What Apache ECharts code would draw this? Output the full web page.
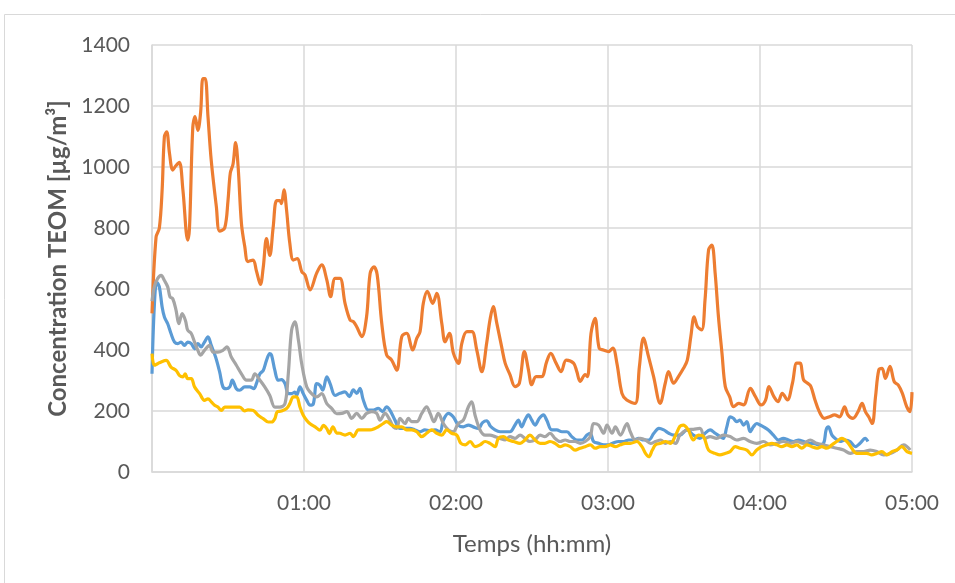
<!DOCTYPE html>
<html>
<head>
<meta charset="utf-8">
<script src="https://cdn.jsdelivr.net/npm/echarts@6/dist/echarts.min.js"></script>
<style>
  html, body { margin: 0; padding: 0; background: #fff; }
  #chart { width: 955px; height: 583px; }
</style>
</head>
<body>
<div id="chart"></div>
<script>
// time in minutes, concentration in µg/m³
const xTickLabels = ['', '01:00', '02:00', '03:00', '04:00', '05:00'];
const yTicks = [0, 200, 400, 600, 800, 1000, 1200, 1400];

const blueData = [[0,322],[0.9,541],[1.9,623],[2.9,607],[4.0,541],[4.9,508],[6.2,486],[7.5,454],[8.9,426],[10.2,421],[11.5,426],[12.8,415],[14.1,426],[15.5,421],[16.8,404],[18.1,421],[19.4,410],[20.7,426],[22.1,443],[23.4,415],[25.1,377],[26.7,328],[28.0,279],[29.3,273],[30.7,279],[31.7,301],[33.3,273],[34.6,268],[36.6,279],[38.6,279],[40.2,273],[41.2,290],[42.6,322],[43.9,333],[45.2,366],[46.5,388],[47.2,383],[48.5,333],[49.8,301],[51.1,303],[52.5,290],[53.8,257],[55.1,257],[56.4,262],[57.1,251],[58.4,279],[59.7,257],[61.1,235],[62.4,219],[63.7,224],[65.0,290],[66.3,284],[67.4,268],[69.0,312],[70.3,290],[72.3,251],[74.2,258],[76.2,263],[77.9,247],[79.5,269],[80.8,258],[82.1,274],[83.4,236],[85.4,203],[87.4,203],[89.3,209],[91.0,198],[92.6,214],[93.9,203],[95.9,170],[97.9,143],[99.9,143],[101.8,143],[103.8,138],[105.8,132],[107.7,138],[109.7,136],[111.7,138],[113.7,132],[115.0,170],[117.0,192],[118.9,181],[120.9,154],[122.9,148],[124.9,154],[126.8,148],[128.8,143],[130.5,162],[132.1,168],[133.6,150],[135.4,138],[137.4,132],[139.4,132],[141.3,132],[143.3,154],[144.6,170],[145.9,148],[147.2,170],[148.6,187],[149.9,170],[151.2,154],[152.9,176],[154.5,187],[155.8,170],[157.8,138],[159.8,138],[161.8,132],[163.8,132],[165.7,116],[167.7,105],[169.7,105],[171.7,121],[173.0,127],[174.3,100],[176.3,94],[178.3,89],[180.2,89],[182.2,96],[184.2,100],[186.2,100],[188.2,105],[190.1,105],[192.1,110],[194.1,105],[196.1,105],[198.1,127],[200.1,143],[202.0,138],[204.0,127],[206.0,121],[208.4,121],[211.1,138],[213.7,121],[216.3,110],[218.3,127],[220.3,138],[222.3,127],[224.2,116],[225.5,110],[226.9,148],[228.2,181],[229.5,176],[230.8,165],[232.1,170],[233.5,154],[234.8,165],[236.1,132],[237.4,148],[238.7,159],[240.0,154],[241.4,148],[243.3,138],[245.3,121],[247.3,105],[249.2,110],[251.2,105],[253.2,100],[255.2,105],[257.2,100],[259.1,94],[261.1,94],[263.1,89],[265.1,94],[266.1,138],[267.0,148],[268.4,121],[269.7,110],[271.6,100],[273.6,105],[275.6,100],[277.6,83],[279.5,94],[281.5,110],[282.6,100]];

const orangeData = [[0,520],[1.6,770],[2.9,800],[4.0,925],[4.9,1100],[5.8,1115],[6.9,1045],[8.2,990],[9.5,1005],[10.8,1015],[12.2,925],[14.1,760],[14.8,800],[16.1,1130],[17.0,1165],[18.1,1120],[19.2,1180],[20.1,1290],[21.0,1290],[22.1,1165],[23.4,1020],[25.4,870],[26.7,790],[28.7,800],[30.0,890],[30.9,980],[32.0,1010],[33.0,1080],[34.0,1000],[35.3,815],[36.6,740],[37.9,690],[39.9,695],[41.2,660],[42.8,615],[43.9,670],[45.2,765],[46.5,710],[47.8,800],[49.2,890],[50.5,890],[51.1,880],[52.1,925],[53.1,860],[54.4,750],[55.8,695],[57.4,700],[59.1,657],[60.4,646],[62.4,597],[65.0,652],[67.0,679],[69.0,630],[70.5,575],[72.3,635],[74.2,635],[76.2,553],[78.2,498],[79.5,493],[80.8,476],[82.8,444],[84.7,509],[86.1,651],[87.6,673],[88.9,646],[90.7,487],[92.6,384],[94.6,367],[96.6,334],[98.6,444],[100.5,455],[102.9,400],[104.5,438],[105.8,460],[107.1,553],[108.7,592],[110.8,553],[112.4,586],[114.4,487],[115.7,427],[117.4,455],[119.0,389],[121.0,356],[122.3,422],[124.3,460],[126.3,460],[128.2,400],[130.2,329],[132.1,422],[133.4,498],[134.7,542],[136.1,488],[138.0,411],[139.4,357],[141.3,319],[143.3,280],[145.0,291],[147.0,395],[148.6,335],[149.9,286],[151.6,313],[153.8,313],[155.8,362],[157.4,389],[159.5,357],[161.5,329],[163.5,367],[166.4,357],[167.7,329],[169.0,297],[171.0,319],[171.9,313],[173.3,455],[174.9,504],[176.5,406],[178.2,400],[180.2,395],[181.9,406],[183.5,357],[185.5,258],[187.4,236],[190.7,225],[192.4,346],[194.0,439],[196.0,378],[198.0,313],[200.6,225],[202.6,291],[203.9,329],[205.9,291],[207.8,313],[209.8,340],[211.3,367],[212.7,444],[214.0,509],[215.3,476],[217.0,466],[218.3,564],[219.7,728],[221.0,744],[222.3,651],[223.6,509],[225.0,389],[226.3,280],[228.0,247],[229.6,214],[231.6,225],[233.5,220],[236.2,274],[238.2,247],[240.4,220],[242.2,236],[243.5,280],[245.5,247],[247.1,231],[248.8,258],[250.8,236],[252.8,291],[254.5,357],[255.8,357],[257.2,302],[258.8,291],[260.1,280],[261.7,236],[263.4,198],[265.4,176],[267.4,181],[269.4,187],[271.4,181],[273.4,214],[274.7,187],[276.7,176],[278.7,198],[280.3,225],[281.6,198],[282.9,181],[284.3,159],[285.6,247],[286.9,335],[288.2,340],[289.5,307],[291.3,346],[293.0,296],[294.6,285],[296.2,258],[297.9,214],[299.2,198],[300,262]];

const grayData = [[0,560],[0.9,607],[2.2,634],[3.6,645],[4.9,628],[6.2,607],[7.1,574],[8.2,568],[9.5,530],[10.6,486],[11.9,519],[13.2,497],[14.1,465],[15.5,454],[16.8,426],[18.1,399],[19.2,383],[20.7,399],[22.7,415],[24.1,393],[26.0,393],[28.0,399],[29.6,410],[31.3,377],[33.3,350],[35.3,322],[37.3,301],[39.2,301],[40.6,322],[42.6,301],[44.5,279],[46.5,251],[48.5,213],[50.5,213],[52.5,224],[53.8,322],[55.1,465],[56.4,492],[57.8,432],[59.1,355],[61.1,279],[63.0,257],[65.0,246],[67.0,257],[69.0,224],[71.0,208],[72.9,191],[74.9,192],[76.9,198],[78.8,176],[80.8,192],[82.8,176],[84.7,192],[86.7,198],[88.7,192],[90.0,170],[92.0,192],[93.9,170],[95.3,148],[96.6,143],[97.9,176],[99.9,159],[101.2,176],[102.5,165],[104.5,165],[106.5,192],[108.4,214],[109.8,192],[111.3,165],[113.0,192],[115.0,159],[117.0,138],[118.9,132],[120.9,159],[122.9,170],[124.9,214],[126.2,230],[127.5,187],[129.5,138],[131.5,121],[133.4,121],[135.4,116],[137.4,110],[139.4,105],[141.3,116],[143.3,110],[145.3,121],[147.2,110],[149.2,100],[151.2,105],[153.2,121],[155.1,116],[157.1,127],[159.1,110],[161.1,100],[163.1,105],[165.1,100],[167.0,100],[169.0,94],[171.0,100],[173.0,116],[174.3,159],[176.3,154],[178.3,127],[179.6,154],[181.6,127],[182.9,148],[184.9,121],[187.5,159],[188.8,132],[190.8,105],[192.8,110],[194.8,105],[196.8,94],[198.8,100],[200.8,105],[202.7,94],[204.7,100],[206.7,94],[208.4,121],[211.1,138],[213.7,140],[216.3,143],[218.3,110],[220.3,116],[222.9,110],[225.5,121],[228.2,116],[230.8,105],[233.5,110],[236.1,100],[238.7,94],[241.4,100],[244.0,89],[246.6,94],[249.2,100],[251.9,94],[254.5,100],[257.2,94],[259.8,105],[262.4,94],[265.1,89],[267.7,83],[270.3,78],[273.0,72],[275.6,61],[278.2,67],[280.9,67],[283.5,72],[286.1,67],[288.8,56],[291.4,61],[294.0,72],[296.7,89],[299.3,72]];

const yellowData = [[0,388],[0.9,350],[2.2,355],[3.6,361],[5.6,366],[7.5,344],[9.5,333],[10.8,317],[12.2,312],[13.1,322],[14.1,306],[15.5,306],[16.8,279],[18.8,257],[20.7,235],[22.1,240],[23.4,230],[24.7,219],[26.0,213],[27.4,202],[28.7,213],[30.7,213],[32.6,213],[34.6,213],[36.6,200],[37.9,204],[39.9,202],[41.9,186],[43.9,175],[45.9,164],[47.2,164],[48.5,175],[49.4,197],[51.1,200],[53.1,208],[54.4,224],[55.8,246],[57.1,246],[58.4,213],[59.7,186],[61.1,169],[62.4,158],[64.4,148],[66.3,137],[67.7,153],[69.0,142],[70.0,126],[71.4,148],[72.9,128],[74.2,127],[76.2,121],[78.2,127],[79.5,116],[81.5,138],[83.4,138],[86.1,138],[88.0,143],[89.3,148],[91.3,159],[92.6,165],[94.6,154],[96.6,148],[98.6,148],[100.5,138],[102.5,138],[104.5,132],[106.5,116],[108.4,127],[110.4,138],[112.4,127],[114.4,121],[116.3,138],[118.3,127],[120.3,121],[121.9,94],[123.6,89],[125.6,100],[127.5,83],[129.5,89],[131.5,100],[133.4,94],[135.4,83],[136.7,110],[138.7,116],[140.7,105],[142.7,100],[145.3,94],[147.2,105],[149.2,121],[151.2,105],[153.2,94],[155.1,94],[157.1,100],[159.1,94],[161.1,83],[163.1,89],[165.1,83],[167.0,72],[169.0,78],[171.0,83],[173.0,89],[175.0,78],[176.9,83],[178.9,83],[180.9,89],[182.9,83],[184.9,89],[186.8,94],[188.8,94],[191.4,100],[193.4,83],[194.8,61],[196.1,50],[197.5,72],[198.8,89],[200.8,94],[202.7,100],[204.7,94],[206.7,121],[208.4,150],[209.7,154],[211.7,138],[213.7,105],[215.7,121],[217.7,116],[219.7,72],[222.3,61],[224.2,56],[226.2,61],[228.2,67],[230.2,83],[232.1,78],[234.8,72],[236.8,56],[238.7,72],[240.7,83],[242.7,89],[244.7,94],[246.6,89],[248.6,83],[250.6,89],[252.6,83],[254.5,89],[256.5,78],[258.5,89],[260.5,83],[262.4,78],[264.4,83],[266.4,78],[268.4,89],[270.3,100],[272.3,110],[274.3,100],[276.2,78],[278.2,61],[280.2,61],[282.2,61],[284.1,56],[286.1,61],[288.1,67],[290.1,56],[292.1,67],[294.0,72],[296.0,83],[298.0,67],[300.0,61]];

const chart = echarts.init(document.getElementById('chart'));
const FONT = 'Lato';
const TXT = '#595959';
const GRID = '#d9d9d9';

function line(data, color) {
    return {
        type: 'line',
        data: data,
        smooth: 0.35,
        showSymbol: false,
        lineStyle: { color: color, width: 3.2 },
        itemStyle: { color: color },
        z: 3
    };
}

chart.setOption({
    animation: false,
    graphic: [{
        type: 'rect',
        shape: { x: 4.5, y: 14.5, width: 1000, height: 700 },
        style: { fill: 'none', stroke: GRID, lineWidth: 1 }
    }],
    grid: { left: 152, right: 43, top: 45, bottom: 111 },
    xAxis: {
        type: 'value',
        min: 0, max: 300, interval: 60,
        name: 'Temps (hh:mm)',
        nameLocation: 'middle',
        nameGap: 60,
        nameTextStyle: { fontFamily: FONT, fontSize: 24, color: TXT },
        axisLine: { show: true, lineStyle: { color: GRID, width: 1.5 } },
        axisTick: { show: false },
        axisLabel: {
            fontFamily: FONT, fontSize: 21, color: TXT, margin: 21,
            formatter: v => xTickLabels[Math.round(v / 60)]
        },
        splitLine: { show: true, lineStyle: { color: GRID, width: 1.5 } }
    },
    yAxis: {
        type: 'value',
        min: yTicks[0], max: yTicks[yTicks.length - 1], interval: 200,
        name: 'Concentration TEOM [µg/m³]',
        nameLocation: 'middle',
        nameGap: 82,
        nameTextStyle: { fontFamily: FONT, fontSize: 24, fontWeight: 'bold', color: TXT },
        axisLine: { show: true, lineStyle: { color: GRID, width: 1.5 } },
        axisTick: { show: false },
        axisLabel: { fontFamily: FONT, fontSize: 21, color: TXT, margin: 22, formatter: v => String(v) },
        splitLine: { show: true, lineStyle: { color: GRID, width: 1.5 } }
    },
    series: [
        line(blueData, '#5B9BD5'),
        line(orangeData, '#ED7D31'),
        line(grayData, '#A5A5A5'),
        line(yellowData, '#FFC000')
    ]
});
</script>
</body>
</html>
